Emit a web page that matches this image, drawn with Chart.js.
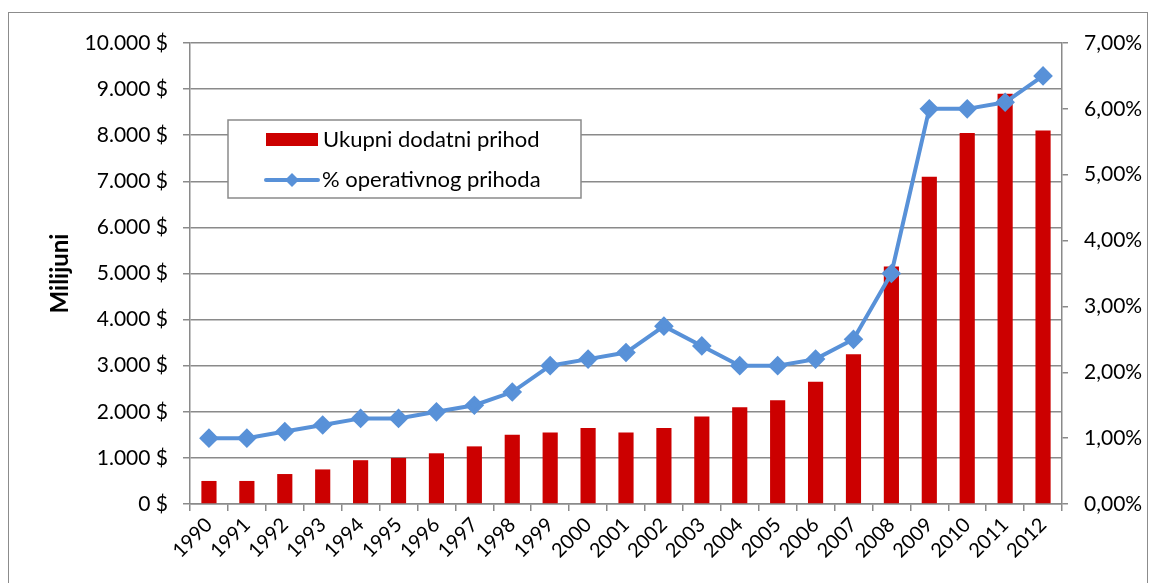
<!DOCTYPE html>
<html>
<head>
<meta charset="utf-8">
<script src="https://cdn.jsdelivr.net/npm/chart.js@4/dist/chart.umd.min.js"></script>
<style>
  body { margin: 0; background: #fff; }
  #frame { position: absolute; left: 8px; top: 12px; width: 1138px; height: 580px; border: 1.5px solid #8c8c8c; }
  #wrap { position: absolute; left: 0; top: 0; width: 1151px; height: 583px; }
</style>
</head>
<body>
<div id="frame"></div>
<div id="wrap"><canvas id="myChart" width="1151" height="583"></canvas></div>
<script>
// data
const years = ['1990','1991','1992','1993','1994','1995','1996','1997','1998','1999','2000',
  '2001','2002','2003','2004','2005','2006','2007','2008','2009','2010','2011','2012'];
const prihod = [500, 500, 650, 750, 950, 1000, 1100, 1250, 1500, 1550, 1650,
  1550, 1650, 1900, 2100, 2250, 2650, 3250, 5150, 7100, 8050, 8900, 8100];
const postotak = [1.0, 1.0, 1.1, 1.2, 1.3, 1.3, 1.4, 1.5, 1.7, 2.1, 2.2,
  2.3, 2.7, 2.4, 2.1, 2.1, 2.2, 2.5, 3.5, 6.0, 6.0, 6.1, 6.5];
const seriesNames = ['Ukupni dodatni prihod', '% operativnog prihoda'];

const gridColor = '#8a8a8a';
const fontFam = 'Lato, "Open Sans", sans-serif';

// legend drawn in a box like the original
const boxLegend = {
  id: 'boxLegend',
  afterDraw(chart) {
    const ctx = chart.ctx;
    const bars = chart.data.datasets.find(d => d.type === 'bar');
    const line = chart.data.datasets.find(d => d.type === 'line');
    ctx.save();
    ctx.fillStyle = '#fff';
    ctx.fillRect(228, 120, 353, 78);
    ctx.strokeStyle = '#8a8a8a';
    ctx.lineWidth = 1.5;
    ctx.strokeRect(228, 120, 353, 78);
    ctx.font = '22px ' + fontFam;
    ctx.textBaseline = 'middle';
    // bar item
    ctx.fillStyle = bars.backgroundColor;
    ctx.fillRect(266, 133, 52, 13);
    ctx.fillStyle = '#000';
    ctx.fillText(bars.label, 323, 140);
    // line item
    ctx.strokeStyle = line.borderColor;
    ctx.lineWidth = 4;
    ctx.lineCap = 'round';
    ctx.beginPath();
    ctx.moveTo(266, 180);
    ctx.lineTo(318, 180);
    ctx.stroke();
    ctx.fillStyle = line.borderColor;
    ctx.beginPath();
    ctx.moveTo(292, 173);
    ctx.lineTo(299, 180);
    ctx.lineTo(292, 187);
    ctx.lineTo(285, 180);
    ctx.closePath();
    ctx.fill();
    ctx.fillStyle = '#000';
    ctx.fillText(line.label, 322, 180);
    ctx.restore();
  }
};

const data = {
  labels: years,
  datasets: [{
    type: 'line',
    label: seriesNames[1],
    data: postotak,
    yAxisID: 'y1',
    borderColor: '#5891d8',
    backgroundColor: '#5891d8',
    borderWidth: 4,
    pointStyle: 'rectRot',
    pointRadius: 7,
    pointHoverRadius: 7,
    tension: 0,
    order: 0
  }, {
    type: 'bar',
    label: seriesNames[0],
    data: prihod,
    yAxisID: 'y',
    backgroundColor: '#cc0000',
    categoryPercentage: 1.0,
    barPercentage: 0.4,
    order: 1
  }]
};

const config = {
  data,
  options: {
    responsive: false,
    animation: false,
    layout: { padding: { top: 43, left: 0, right: 0, bottom: 0 } },
    plugins: { legend: { display: false }, tooltip: { enabled: false } },
    scales: {
      x: {
        offset: true,
        grid: { offset: true, drawOnChartArea: false, drawTicks: true, tickLength: 7, color: gridColor, lineWidth: 1.5 },
        border: { color: gridColor, width: 1.5 },
        ticks: { color: '#000', font: { family: fontFam, size: 20 }, minRotation: 45, maxRotation: 45, padding: 2, autoSkip: false },
        afterFit(scale) { scale.height = 79; }
      },
      y: {
        position: 'left',
        min: 0, max: 10000,
        grid: { color: gridColor, lineWidth: 1.5, tickLength: 7 },
        border: { color: gridColor, width: 1.5 },
        ticks: {
          stepSize: 1000, color: '#000', padding: 15,
          font: { family: fontFam, size: 21 },
          callback: v => v.toLocaleString('de-DE') + ' $'
        },
        title: { display: true, text: 'Milijuni', color: '#000', font: { family: fontFam, size: 24, weight: 'bold' }, padding: { top: 46, bottom: 0 } },
        afterFit(scale) { scale.width = 190; }
      },
      y1: {
        position: 'right',
        min: 0, max: 7,
        grid: { drawOnChartArea: false, color: gridColor, lineWidth: 1.5, tickLength: 6 },
        border: { color: gridColor, width: 1.5 },
        ticks: {
          stepSize: 1, color: '#000', padding: 16,
          font: { family: fontFam, size: 21 },
          callback: v => v.toFixed(2).replace('.', ',') + '%'
        },
        afterFit(scale) { scale.width = 89; }
      }
    }
  },
  plugins: [boxLegend]
};

const myChart = new Chart(document.getElementById('myChart'), config);
</script>
</body>
</html>
